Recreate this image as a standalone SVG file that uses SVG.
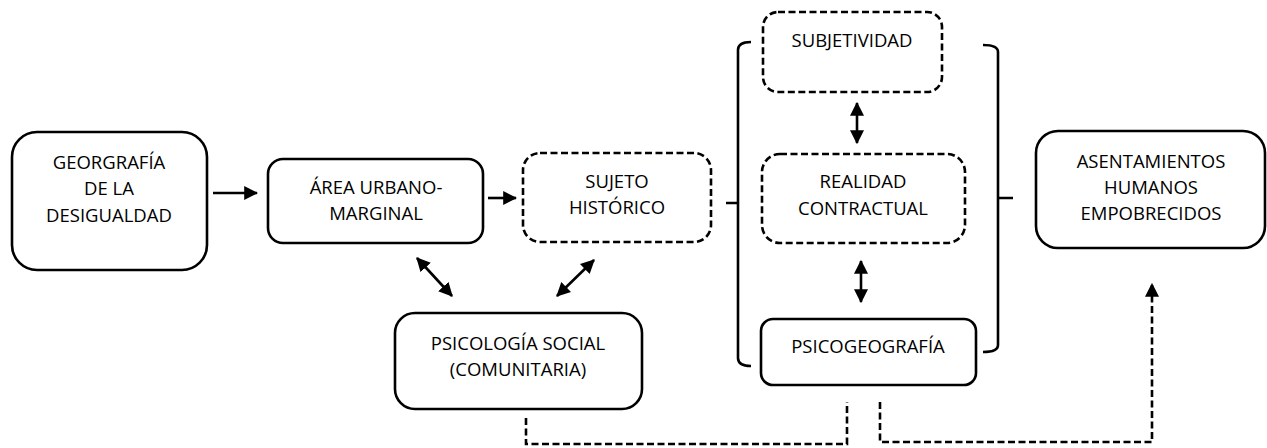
<svg xmlns="http://www.w3.org/2000/svg" width="1267" height="448" viewBox="0 0 1267 448">
<style>
.box{fill:#fff;stroke:#000;stroke-width:2.6}
.dash{stroke-dasharray:7 3.5}
.t{font-family:"Open Sans","Noto Sans",sans-serif;font-size:18.5px;fill:#000;text-anchor:middle}
.ln{fill:none;stroke:#000;stroke-width:2.6}
.dl{fill:none;stroke:#000;stroke-width:2.6;stroke-dasharray:7 3.5}
</style>
<defs>
<marker id="ah" viewBox="0 0 12 12" refX="11" refY="6" markerWidth="14" markerHeight="14" markerUnits="userSpaceOnUse" orient="auto-start-reverse">
<path d="M0,0 L12,6 L0,12 z" fill="#000"/>
</marker>
</defs>
<rect width="1267" height="448" fill="#fff"/>
<g id="connectors">
<line class="ln" x1="213" y1="193" x2="257" y2="193" marker-end="url(#ah)"/>
<line class="ln" x1="488" y1="198" x2="516" y2="198" marker-end="url(#ah)"/>
<line class="ln" x1="857" y1="103" x2="857" y2="143" marker-start="url(#ah)" marker-end="url(#ah)"/>
<line class="ln" x1="861" y1="261" x2="861" y2="302" marker-start="url(#ah)" marker-end="url(#ah)"/>
<line class="ln" x1="417" y1="258" x2="452" y2="296" marker-start="url(#ah)" marker-end="url(#ah)"/>
<line class="ln" x1="594" y1="260" x2="557" y2="296" marker-start="url(#ah)" marker-end="url(#ah)"/>
<path class="dl" d="M526 418 V444 H847 V402"/>
<path class="dl" d="M880 402 V442 H1152 V284" marker-end="url(#ah)"/>
<path class="ln" d="M751 42 Q738 42 738 50 V358 Q738 366 751 366 M726 203 H738"/>
<path class="ln" d="M983 45 Q998 45 998 52 V345 Q998 352 983 352 M998 198 H1013"/>
</g>
<g id="n1">
<rect class="box" x="12" y="132" width="195" height="138" rx="25"/>
<text class="t" x="109" y="169">GEORGRAFÍA</text>
<text class="t" x="109" y="195">DE LA</text>
<text class="t" x="109" y="222">DESIGUALDAD</text>
</g>
<g id="n2">
<rect class="box" x="268" y="159" width="215" height="84" rx="15"/>
<text class="t" x="376" y="194">ÁREA URBANO-</text>
<text class="t" x="376" y="220">MARGINAL</text>
</g>
<g id="n3">
<rect class="box dash" x="523" y="153" width="188" height="89" rx="17"/>
<text class="t" x="617" y="188">SUJETO</text>
<text class="t" x="617" y="214">HISTÓRICO</text>
</g>
<g id="n4">
<rect class="box dash" x="763" y="12" width="179" height="80" rx="15"/>
<text class="t" x="852" y="47">SUBJETIVIDAD</text>
</g>
<g id="n5">
<rect class="box dash" x="762" y="154" width="203" height="89" rx="18"/>
<text class="t" x="863" y="188">REALIDAD</text>
<text class="t" x="863" y="215">CONTRACTUAL</text>
</g>
<g id="n6">
<rect class="box" x="761" y="319" width="215" height="66" rx="12"/>
<text class="t" x="868" y="353">PSICOGEOGRAFÍA</text>
</g>
<g id="n7">
<rect class="box" x="395" y="313" width="247" height="96" rx="20"/>
<text class="t" x="518" y="350">PSICOLOGÍA SOCIAL</text>
<text class="t" x="518" y="376">(COMUNITARIA)</text>
</g>
<g id="n8">
<rect class="box" x="1036" y="131" width="229" height="117" rx="22"/>
<text class="t" x="1151" y="168">ASENTAMIENTOS</text>
<text class="t" x="1151" y="194">HUMANOS</text>
<text class="t" x="1151" y="220">EMPOBRECIDOS</text>
</g>
</svg>
